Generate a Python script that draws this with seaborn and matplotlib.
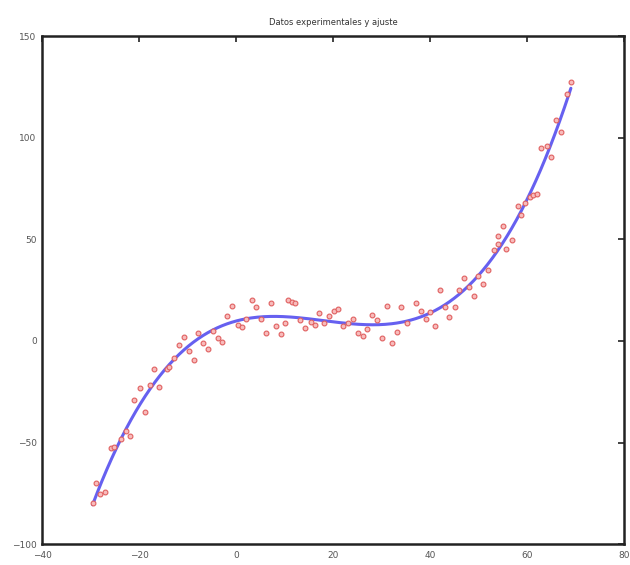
import numpy as np
import pandas as pd
import matplotlib
matplotlib.use("Agg")
import matplotlib.pyplot as plt
import seaborn as sns

title = "Datos experimentales y ajuste"
x_ticks = [-40, -20, 0, 20, 40, 60, 80]
y_ticks = [-100, -50, 0, 50, 100, 150]

x_data = [-29.6, -28.9, -28.0, -27.0, -25.8, -25.1, -23.7, -22.7, -21.8, -21.0,
          -19.8, -18.8, -17.8, -16.9, -15.8, -14.3, -13.8, -12.8, -11.7, -10.8,
          -9.7, -8.6, -7.8, -6.8, -5.7, -4.7, -3.8, -2.9, -1.8, -0.9,
          0.5, 1.2, 2.1, 3.2, 4.2, 5.2, 6.1, 7.3, 8.2, 9.2,
          10.2, 10.8, 11.6, 12.1, 13.3, 14.2, 15.4, 16.3, 17.2, 18.1,
          19.1, 20.2, 21.0, 22.0, 23.1, 24.1, 25.2, 26.1, 27.0, 28.0,
          29.1, 30.1, 31.1, 32.2, 33.2, 34.1, 35.2, 37.1, 38.2, 39.2,
          40.1, 41.1, 42.0, 43.1, 44.0, 45.1, 46.0, 47.1, 48.1, 49.2,
          50.0, 51.0, 51.9, 53.3, 54.1, 54.1, 55.1, 55.8, 56.9, 58.1,
          58.9, 59.7, 60.6, 61.3, 62.2, 62.9, 64.1, 65.0, 66.1, 67.0,
          68.2, 69.1]
y_data = [-79.6, -69.8, -75.5, -74.3, -52.6, -52.1, -48.5, -44.4, -46.6, -28.9,
          -23.2, -35.1, -21.6, -13.9, -22.7, -13.9, -12.6, -8.5, -2.0, 1.8,
          -5.2, -9.3, 4.1, -1.1, -4.1, 5.0, 1.3, -0.3, 12.3, 17.2,
          7.8, 7.0, 10.6, 20.1, 16.8, 10.6, 4.1, 18.5, 7.4, 3.4,
          9.0, 20.1, 19.3, 18.8, 10.3, 6.2, 9.5, 7.8, 13.6, 8.7,
          12.3, 14.9, 15.5, 7.4, 8.7, 10.6, 4.1, 2.5, 5.7, 12.7,
          10.3, 1.3, 17.2, -1.1, 4.6, 16.5, 8.7, 18.5, 14.9, 10.6,
          14.4, 7.4, 25.3, 16.8, 11.9, 16.8, 25.0, 31.2, 26.3, 22.1,
          31.9, 27.9, 35.1, 44.9, 51.5, 47.9, 56.4, 45.4, 49.8, 66.2,
          61.8, 67.8, 70.7, 71.6, 72.1, 94.9, 96.1, 90.7, 108.7, 102.6,
          121.4, 127.6]

df = pd.DataFrame({"x": x_data, "y": y_data})
coef = np.polyfit(df["x"], df["y"], 3)
xf = np.linspace(df["x"].min(), df["x"].max(), 300)
fit = pd.DataFrame({"x": xf, "y": np.polyval(coef, xf)})

sns.set_style("white")
plt.rcParams["font.family"] = ["DejaVu Sans"]

fig = plt.figure(figsize=(6.3, 5.65), dpi=100)
ax = fig.add_axes([0.067, 0.037, 0.923, 0.899])

sns.lineplot(data=fit, x="x", y="y", ax=ax, color="#6660f0", linewidth=2.2, zorder=2)
sns.scatterplot(data=df, x="x", y="y", ax=ax, marker="o", s=12,
                facecolor="#f8bcbc", edgecolor="#e06060", linewidth=0.8, zorder=3)

ax.set_xlim(-40, 80)
ax.set_ylim(-100, 150)
ax.set_xticks(x_ticks)
ax.set_yticks(y_ticks)
ax.set_xlabel("")
ax.set_ylabel("")
ax.set_title(title, fontsize=6, color="#333333", pad=8)
ax.tick_params(direction="in", length=4, width=1.2, top=True, right=True,
               labelsize=6.5, labelcolor="#555555", colors="#222222")
ax.tick_params(axis="x", pad=5)
ax.tick_params(axis="y", pad=4)
for s in ax.spines.values():
    s.set_visible(True)
    s.set_color("#222222")
    s.set_linewidth(1.8)

fig.savefig("out.png", dpi=100)
